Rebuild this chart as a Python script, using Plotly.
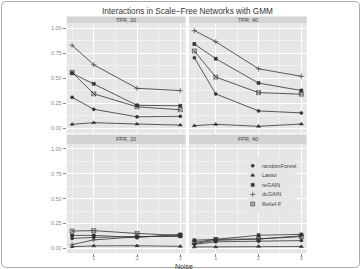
import plotly.graph_objects as go

W, H = 361, 269

noise = [0.5, 1, 2, 3]
x_ticks = [1, 2, 3]
y_ticks = [0, 0.25, 0.5, 0.75, 1.0]
methods = ["randomForest", "Lasso", "reGAIN", "dcGAIN", "Relief-F"]
symbols = ["circle", "triangle-up", "square", "cross-thin-open", "square-x-open"]
marker_sizes = [3, 3.5, 3, 4, 4]

tpr20 = {
    "randomForest": [0.31, 0.19, 0.115, 0.12],
    "Lasso": [0.04, 0.056, 0.043, 0.032],
    "reGAIN": [0.55, 0.445, 0.23, 0.225],
    "dcGAIN": [0.83, 0.635, 0.40, 0.377],
    "Relief-F": [0.56, 0.345, 0.215, 0.185],
}
tpr40 = {
    "randomForest": [0.706, 0.344, 0.174, 0.154],
    "Lasso": [0.026, 0.04, 0.02, 0.043],
    "reGAIN": [0.843, 0.696, 0.452, 0.378],
    "dcGAIN": [0.977, 0.866, 0.595, 0.52],
    "Relief-F": [0.773, 0.512, 0.357, 0.341],
}
fpr20 = {
    "randomForest": [0.10, 0.11, 0.12, 0.12],
    "Lasso": [0.016, 0.025, 0.026, 0.02],
    "reGAIN": [0.13, 0.13, 0.11, 0.14],
    "dcGAIN": [0.037, 0.085, 0.115, 0.127],
    "Relief-F": [0.174, 0.178, 0.15, 0.13],
}
fpr40 = {
    "randomForest": [0.04, 0.065, 0.072, 0.078],
    "Lasso": [0.014, 0.014, 0.02, 0.018],
    "reGAIN": [0.082, 0.09, 0.132, 0.14],
    "dcGAIN": [0.05, 0.08, 0.093, 0.127],
    "Relief-F": [0.06, 0.09, 0.095, 0.117],
}

panels = [
    ("TPR, 20", tpr20, "x", "y"),
    ("TPR, 40", tpr40, "x2", "y2"),
    ("FPR, 20", fpr20, "x3", "y3"),
    ("FPR, 40", fpr40, "x4", "y4"),
]

def px(x):
    return x / W

def py(y):
    return 1 - y / H

# layout geometry (pixels)
col_x = [(66.7, 185.7), (189.0, 306.7)]
row_y = [(23.3, 133.3), (144.0, 253.3)]
strip_y = [(16.5, 23.3), (134.6, 144.0)]

BG = "#E6E6E6"
STRIP = "#D4D4D4"
LINE = "#333333"
TICKC = "#8A8A8A"
FONT = "Liberation Sans, Arial, sans-serif"

fig = go.Figure()

for title, data, xa, ya in panels:
    for m, s, ms in zip(methods, symbols, marker_sizes):
        fig.add_trace(go.Scatter(
            x=noise, y=data[m], mode="lines+markers", name=m,
            xaxis=xa, yaxis=ya, showlegend=False,
            line=dict(color=LINE, width=0.8),
            marker=dict(symbol=s, size=ms, color=LINE,
                        line=dict(color=LINE, width=0.6)),
        ))

layout = dict(
    width=W, height=H,
    margin=dict(l=0, r=0, t=0, b=0),
    paper_bgcolor="white",
    plot_bgcolor=BG,
    showlegend=False,
    font=dict(family=FONT, size=6, color="#333"),
)

axis_names = [("xaxis", "yaxis"), ("xaxis2", "yaxis2"), ("xaxis3", "yaxis3"), ("xaxis4", "yaxis4")]
shapes = []
annotations = []
for i, (title, data, xa, ya) in enumerate(panels):
    r, c = divmod(i, 2)
    xn, yn = axis_names[i]
    x0, x1 = col_x[c]
    y0, y1 = row_y[r]
    layout[xn] = dict(
        domain=[px(x0), px(x1)], range=[0.375, 3.125], anchor=ya,
        tickvals=x_ticks, ticktext=[str(t) for t in x_ticks],
        showticklabels=(r == 1), ticks="outside" if r == 1 else "",
        ticklen=2.5, tickwidth=0.7, tickcolor=TICKC, ticklabelstandoff=-3,
        tickfont=dict(size=5.5, color=TICKC, family=FONT),
        showgrid=True, gridcolor="white", gridwidth=1,
        minor=dict(tickvals=[0.5, 1.5, 2.5], showgrid=True, gridcolor="#F2F2F2", gridwidth=0.6),
        zeroline=False, showline=False, fixedrange=True,
    )
    layout[yn] = dict(
        domain=[py(y1), py(y0)], range=[-0.05, 1.05], anchor=xa,
        tickvals=y_ticks, tickformat=".2f",
        showticklabels=(c == 0), ticks="outside" if c == 0 else "",
        ticklen=3, tickwidth=0.7, tickcolor=TICKC,
        tickfont=dict(size=5.5, color=TICKC, family=FONT),
        showgrid=True, gridcolor="white", gridwidth=1,
        minor=dict(tickvals=[0.125, 0.375, 0.625, 0.875], showgrid=True, gridcolor="#F2F2F2", gridwidth=0.6),
        zeroline=False, showline=False, fixedrange=True,
    )
    sy0, sy1 = strip_y[r]
    shapes.append(dict(type="rect", xref="paper", yref="paper",
                       x0=px(x0), x1=px(x1), y0=py(sy1), y1=py(sy0),
                       fillcolor=STRIP, line=dict(width=0), layer="below"))
    annotations.append(dict(text=title, xref="paper", yref="paper",
                            x=px((x0 + x1) / 2), y=py((sy0 + sy1) / 2),
                            xanchor="center", yanchor="middle", showarrow=False,
                            font=dict(size=5.5, color="#444", family=FONT)))

# legend overlay axes
leg_x0, leg_x1, leg_y0, leg_y1 = 247.0, 295.0, 157.0, 213.0
layout["xaxis5"] = dict(domain=[px(leg_x0), px(leg_x1)], range=[0, 48], anchor="y5",
                        visible=False, fixedrange=True)
layout["yaxis5"] = dict(domain=[py(leg_y1), py(leg_y0)], range=[4.94, -0.91], anchor="x5",
                        visible=False, fixedrange=True)
shapes.append(dict(type="rect", xref="x5 domain", yref="y5 domain", x0=0, x1=1, y0=0, y1=1,
                   fillcolor="white", line=dict(width=0), layer="below"))
for k, (m, s, ms) in enumerate(zip(methods, symbols, marker_sizes)):
    fig.add_trace(go.Scatter(
        x=[5.7], y=[k], mode="markers", xaxis="x5", yaxis="y5", showlegend=False,
        marker=dict(symbol=s, size=ms, color=LINE, line=dict(color=LINE, width=0.6)),
    ))
    annotations.append(dict(text=m, xref="x5", yref="y5", x=12.5, y=k,
                            xanchor="left", yanchor="middle", showarrow=False,
                            font=dict(size=5.5, color="#444", family=FONT)))

# title and axis label
annotations.append(dict(text="Interactions in Scale\u2212Free Networks with GMM",
                        xref="paper", yref="paper", x=px(187.5), y=py(11.5),
                        xanchor="center", yanchor="middle", showarrow=False,
                        font=dict(size=8.2, color="#333", family=FONT)))
annotations.append(dict(text="Noise", xref="paper", yref="paper", x=px(184), y=py(266),
                        xanchor="center", yanchor="middle", showarrow=False,
                        font=dict(size=7, color="#333", family=FONT)))

# outer rounded frame
fx0, fx1, fy0, fy1, rr = 1.5, 359.5, 1.5, 267.5, 5
path = (f"M {px(fx0 + rr)} {py(fy0)} L {px(fx1 - rr)} {py(fy0)} "
        f"Q {px(fx1)} {py(fy0)} {px(fx1)} {py(fy0 + rr)} "
        f"L {px(fx1)} {py(fy1 - rr)} Q {px(fx1)} {py(fy1)} {px(fx1 - rr)} {py(fy1)} "
        f"L {px(fx0 + rr)} {py(fy1)} Q {px(fx0)} {py(fy1)} {px(fx0)} {py(fy1 - rr)} "
        f"L {px(fx0)} {py(fy0 + rr)} Q {px(fx0)} {py(fy0)} {px(fx0 + rr)} {py(fy0)} Z")
shapes.append(dict(type="path", xref="paper", yref="paper", path=path,
                   line=dict(color="#A8A8A8", width=1), fillcolor="rgba(0,0,0,0)", layer="above"))

layout["shapes"] = shapes
layout["annotations"] = annotations
fig.update_layout(**layout)

fig.write_html("out.html")
